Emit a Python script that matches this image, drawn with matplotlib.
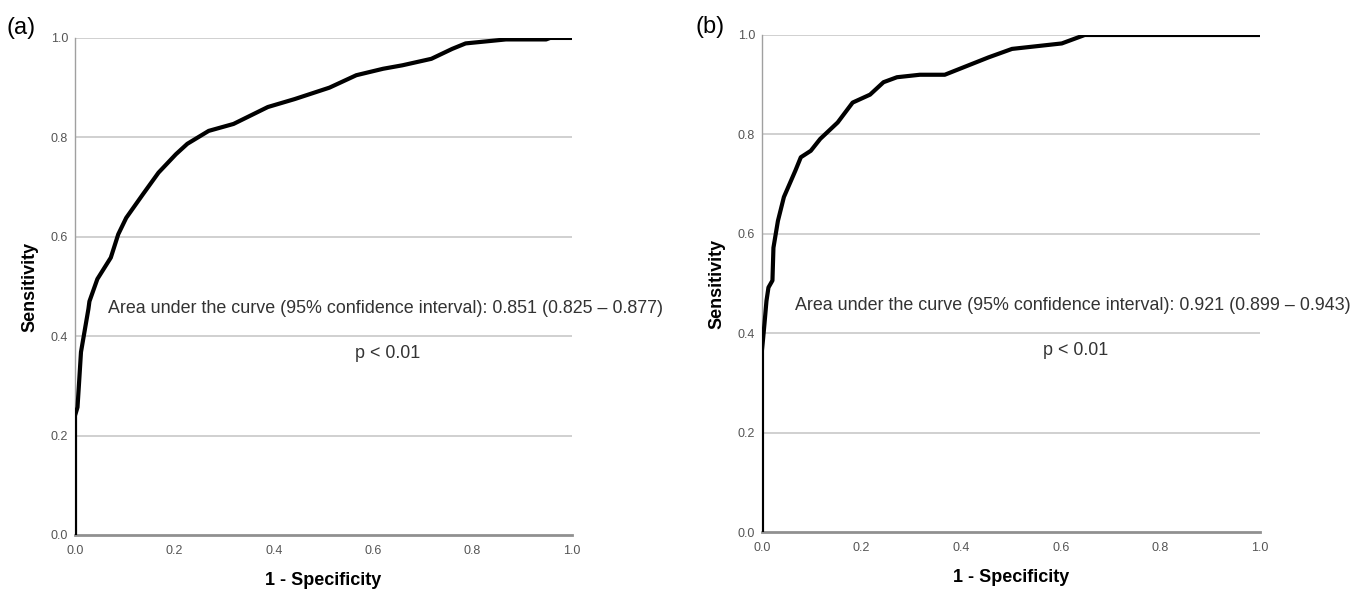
import matplotlib
matplotlib.use("Agg")
import matplotlib.pyplot as plt

plt.rcParams['font.family'] = ['Liberation Sans', 'DejaVu Sans']

# ROC curve (a)
fpr_a = [0.0, 0.0, 0.0, 0.005, 0.008, 0.012, 0.027, 0.029, 0.045, 0.072, 0.087,
         0.103, 0.137, 0.168, 0.203, 0.226, 0.269, 0.319, 0.388, 0.442, 0.512,
         0.566, 0.620, 0.659, 0.717, 0.759, 0.786, 0.867, 0.948, 0.956, 1.0]
tpr_a = [0.0, 0.223, 0.240, 0.257, 0.304, 0.368, 0.455, 0.470, 0.515, 0.558, 0.605,
         0.638, 0.686, 0.729, 0.766, 0.787, 0.813, 0.827, 0.861, 0.877, 0.900,
         0.925, 0.938, 0.945, 0.958, 0.978, 0.989, 0.997, 0.997, 1.0, 1.0]

# ROC curve (b)
fpr_b = [0.0, 0.0, 0.005, 0.009, 0.013, 0.021, 0.023, 0.032, 0.044, 0.067, 0.078,
         0.098, 0.117, 0.152, 0.182, 0.217, 0.244, 0.271, 0.317, 0.367, 0.455,
         0.502, 0.602, 0.648, 1.0]
tpr_b = [0.0, 0.365, 0.419, 0.465, 0.492, 0.506, 0.572, 0.626, 0.674, 0.727, 0.754,
         0.767, 0.791, 0.824, 0.864, 0.880, 0.905, 0.915, 0.920, 0.920, 0.955,
         0.972, 0.983, 1.0, 1.0]

panel_labels = ["(a)", "(b)"]
auc_texts = ["Area under the curve (95% confidence interval): 0.851 (0.825 \u2013 0.877)",
             "Area under the curve (95% confidence interval): 0.921 (0.899 \u2013 0.943)"]
p_text = "p < 0.01"
ticks = [0.0, 0.2, 0.4, 0.6, 0.8, 1.0]

fig = plt.figure(figsize=(13.69, 5.91), dpi=100)
ax_a = fig.add_axes([0.0548, 0.0948, 0.363, 0.841])
ax_b = fig.add_axes([0.5566, 0.0998, 0.3638, 0.841])

curves = [(fpr_a, tpr_a), (fpr_b, tpr_b)]
for i, ax in enumerate([ax_a, ax_b]):
    fpr, tpr = curves[i]
    ax.set_xlim(0, 1)
    ax.set_ylim(0, 1)
    for t in ticks[1:]:
        ax.axhline(t, color='#c8c8c8', lw=1.2, zorder=1)
    ax.plot(fpr, tpr, color='black', lw=3, zorder=3, solid_joinstyle='round')
    for s in ['top', 'right']:
        ax.spines[s].set_visible(False)
    ax.spines['left'].set_color('#a0a0a0')
    ax.spines['left'].set_linewidth(1.0)
    ax.spines['bottom'].set_color('#909090')
    ax.spines['bottom'].set_linewidth(2.0)
    ax.set_xticks(ticks)
    ax.set_yticks(ticks)
    ax.set_xticklabels([f"{t:.1f}" for t in ticks])
    ax.set_yticklabels([f"{t:.1f}" for t in ticks])
    ax.tick_params(length=0, labelsize=9, colors='#555555')
    ax.tick_params(axis='x', pad=7)
    ax.tick_params(axis='y', pad=5)
    ax.set_xlabel("1 - Specificity", fontsize=13, fontweight='bold', labelpad=11)
    ax.set_ylabel("Sensitivity", fontsize=13, fontweight='bold', labelpad=9)
    ax.text(0.066, 0.455, auc_texts[i], fontsize=12.9, color='#333333',
            va='center', ha='left', clip_on=False, zorder=4)
    ax.text(0.63, 0.366, p_text, fontsize=12.9, color='#333333',
            va='center', ha='center', zorder=4)

fig.text(0.005, 0.952, panel_labels[0], fontsize=17, va='center', ha='left')
fig.text(0.508, 0.954, panel_labels[1], fontsize=17, va='center', ha='left')

fig.savefig("out.png", dpi=100)
